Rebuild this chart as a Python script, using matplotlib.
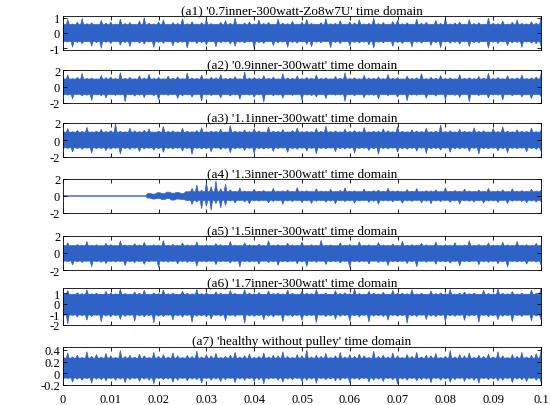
import numpy as np
import matplotlib.pyplot as plt

plt.rcParams['font.family'] = ['Liberation Serif', 'DejaVu Serif']

titles = ["(a1) '0.7inner-300watt-Zo8w7U' time domain",
          "(a2) '0.9inner-300watt' time domain",
          "(a3) '1.1inner-300watt' time domain",
          "(a4) '1.3inner-300watt' time domain",
          "(a5) '1.5inner-300watt' time domain",
          "(a6) '1.7inner-300watt' time domain",
          "(a7) 'healthy without pulley' time domain"]

# envolvente superior / inferior de cada senal (x100), muestreada de 0 a 0.1 s
a1_hi = [62, 88, 58, 70, 95, 60, 66, 55, 82, 64, 72, 58, 90, 61, 68, 57, 78, 99, 63, 59, 71, 85, 56, 67,
         62, 92, 60, 74, 58, 66, 87, 61, 57, 69, 80, 63, 96, 58, 65, 72, 59, 84, 62, 68, 57, 91, 64, 60,
         76, 58, 70, 88, 62, 56, 67, 94, 60, 63, 79, 58, 71, 65, 86, 59, 62, 97, 61, 68, 57, 74, 83, 60,
         66, 58, 90, 63, 69, 56, 81, 62, 93, 59, 65, 71, 58, 87, 61, 67, 57, 96, 63, 60, 78, 58, 69, 85,
         62, 59, 73, 64, 98]
a1_lo = [-65, -58, -92, -61, -70, -57, -85, -63, -99, -60, -68, -56, -79, -62, -88, -59, -66, -72, -58,
         -94, -61, -67, -57, -83, -64, -60, -97, -58, -69, -62, -76, -57, -90, -63, -59, -71, -86, -60,
         -65, -58, -100, -62, -68, -57, -81, -64, -59, -93, -61, -66, -58, -74, -89, -60, -63, -57, -96,
         -62, -69, -58, -84, -61, -65, -59, -77, -98, -60, -64, -57, -87, -62, -68, -58, -91, -60, -66,
         -57, -80, -63, -95, -59, -67, -61, -73, -58, -88, -62, -65, -57, -99, -60, -69, -58, -82, -64,
         -61, -94, -59, -66, -70, -86]
a2_hi = [105, 140, 95, 110, 160, 98, 102, 92, 135, 108, 115, 96, 170, 100, 112, 94, 130, 104, 150, 97,
         109, 93, 125, 101, 118, 95, 165, 103, 99, 138, 94, 111, 106, 145, 97, 100, 120, 93, 175, 102,
         108, 96, 132, 99, 114, 92, 155, 104, 98, 128, 95, 110, 101, 142, 97, 106, 94, 122, 100, 168,
         96, 107, 93, 136, 103, 99, 117, 95, 148, 101, 109, 92, 126, 98, 105, 158, 94, 112, 100, 133,
         96, 104, 93, 144, 99, 107, 95, 121, 102, 162, 97, 110, 94, 130, 100, 106, 139, 96, 103, 115, 150]
a2_lo = [-110, -104, -150, -98, -115, -106, -170, -101, -112, -140, -99, -108, -103, -185, -100, -118,
         -105, -135, -97, -111, -160, -102, -107, -99, -145, -113, -101, -128, -96, -175, -104, -109,
         -100, -138, -98, -116, -103, -155, -99, -106, -131, -101, -190, -97, -112, -104, -142, -100,
         -108, -98, -165, -103, -110, -126, -99, -147, -96, -105, -102, -180, -100, -114, -98, -137,
         -104, -107, -152, -97, -111, -101, -129, -99, -172, -103, -106, -98, -143, -100, -117, -96,
         -158, -102, -108, -133, -99, -186, -101, -110, -97, -140, -104, -105, -162, -98, -112, -100,
         -127, -103, -148, -99, -120]
a3_hi = [108, 135, 97, 112, 100, 150, 95, 104, 125, 99, 110, 190, 102, 96, 140, 107, 98, 115, 130, 94,
         105, 160, 100, 109, 96, 138, 103, 98, 112, 145, 97, 106, 101, 128, 95, 170, 104, 99, 118, 97,
         133, 108, 94, 152, 102, 100, 122, 96, 111, 142, 98, 105, 97, 136, 103, 165, 99, 107, 95, 127,
         101, 112, 98, 148, 96, 104, 100, 131, 109, 97, 158, 102, 95, 120, 106, 99, 139, 97, 103, 176,
         100, 110, 96, 126, 104, 98, 144, 101, 107, 95, 134, 99, 155, 103, 97, 119, 105, 100, 141, 98, 112]
a3_lo = [-105, -98, -140, -101, -110, -96, -155, -103, -99, -125, -107, -97, -165, -100, -112, -98,
         -135, -104, -96, -120, -102, -145, -99, -108, -97, -130, -101, -170, -98, -106, -103, -138,
         -96, -111, -100, -150, -104, -97, -122, -99, -160, -102, -107, -98, -133, -100, -95, -147,
         -103, -109, -97, -128, -101, -162, -99, -105, -96, -137, -102, -108, -98, -152, -100, -97,
         -124, -104, -168, -99, -106, -96, -142, -101, -110, -98, -131, -97, -157, -103, -100, -119,
         -96, -144, -102, -107, -99, -135, -98, -166, -101, -105, -97, -127, -103, -149, -99, -104,
         -96, -139, -100, -111, -130]
a4_hi = [0, 0, 0, 0, 0, 0, 0, 0, 0, 0, 0, 0, 0, 0, 0, 0, 0, 0,
         30, 22, 38, 28, 45, 33, 40, 30, 50,
         90, 130, 70, 160, 110, 180, 85, 140,
         75, 55, 95, 60, 52, 80, 58, 65, 50, 90, 57, 62, 72, 54, 100, 59, 63, 51, 85, 60,
         56, 78, 53, 66, 95, 58, 61, 52, 82, 57, 64, 70, 55, 92, 59, 62, 50, 76, 58, 88,
         54, 63, 60, 73, 52, 97, 57, 65, 56, 81, 60, 53, 69, 58, 90, 55, 62, 74, 51, 86,
         59, 64, 57, 79, 60, 66]
a4_lo = [0, 0, 0, 0, 0, 0, 0, 0, 0, 0, 0, 0, 0, 0, 0, 0, 0, 0,
         -25, -35, -28, -42, -30, -48, -36, -40, -55,
         -100, -70, -150, -120, -170, -90, -140, -110,
         -60, -85, -55, -70, -95, -58, -62, -52, -80, -64, -57, -100, -60, -66, -54, -78, -59,
         -88, -62, -55, -72, -61, -93, -56, -65, -58, -83, -60, -53, -75, -63, -97, -57, -61,
         -68, -55, -86, -59, -64, -52, -79, -62, -91, -58, -66, -54, -74, -60, -95, -57, -63,
         -70, -56, -84, -61, -59, -77, -53, -89, -62, -58, -65, -81, -60, -73, -66]
a5_hi = [95, 120, 88, 100, 92, 135, 90, 97, 86, 115, 99, 91, 142, 94, 89, 110, 96, 125, 87, 98, 93,
         148, 90, 101, 88, 118, 95, 92, 130, 89, 97, 86, 112, 100, 91, 138, 94, 88, 122, 96, 90, 104,
         87, 145, 93, 99, 89, 116, 95, 91, 128, 88, 98, 92, 150, 90, 96, 87, 119, 94, 100, 89, 133,
         92, 97, 86, 124, 95, 90, 108, 88, 140, 93, 99, 91, 114, 96, 87, 131, 90, 98, 93, 121, 89, 95,
         146, 92, 100, 88, 117, 94, 91, 127, 96, 89, 136, 93, 98, 90, 113, 95]
a5_lo = [-108, -100, -140, -104, -112, -98, -160, -103, -110, -125, -101, -106, -99, -150, -105, -113,
         -100, -135, -102, -97, -170, -104, -109, -101, -128, -99, -111, -103, -155, -100, -106, -98,
         -138, -105, -102, -120, -99, -165, -103, -108, -100, -132, -97, -112, -104, -145, -101, -107,
         -99, -126, -103, -158, -100, -110, -98, -136, -105, -101, -118, -99, -168, -102, -108, -100,
         -130, -97, -113, -104, -148, -101, -106, -99, -124, -103, -162, -100, -109, -98, -134, -102,
         -105, -120, -99, -153, -101, -107, -97, -139, -104, -111, -100, -127, -103, -166, -99, -106,
         -101, -131, -98, -108, -142]
a6_hi = [100, 125, 92, 105, 96, 135, 94, 101, 90, 118, 103, 95, 140, 98, 93, 112, 100, 128, 91, 104,
         97, 132, 95, 102, 90, 120, 99, 94, 138, 96, 103, 91, 115, 100, 93, 126, 98, 92, 134, 101, 95,
         108, 90, 122, 97, 104, 94, 130, 99, 92, 117, 102, 96, 136, 93, 100, 91, 124, 98, 105, 95, 140,
         97, 92, 119, 101, 94, 110, 90, 127, 99, 103, 96, 133, 93, 100, 91, 121, 97, 104, 95, 137, 92,
         99, 113, 96, 102, 90, 129, 98, 94, 142, 100, 95, 116, 93, 103, 91, 131, 99, 145]
a6_lo = [-118, -190, -110, -125, -114, -155, -120, -108, -170, -116, -122, -112, -148, -119, -109,
         -165, -115, -124, -111, -180, -117, -121, -108, -152, -113, -126, -110, -175, -118, -114,
         -123, -145, -109, -116, -160, -112, -120, -107, -185, -115, -119, -111, -150, -117, -124,
         -109, -168, -113, -121, -110, -158, -116, -112, -178, -108, -122, -115, -147, -119, -111,
         -163, -114, -125, -109, -172, -117, -113, -120, -155, -110, -118, -112, -183, -115, -121,
         -108, -149, -116, -123, -111, -166, -114, -119, -110, -157, -117, -112, -176, -109, -122,
         -115, -151, -118, -113, -169, -111, -120, -108, -160, -116, -150]
a7_hi = [30, 35, 28, 31, 27, 37, 29, 32, 28, 34, 30, 27, 39, 29, 31, 28, 33, 30, 27, 36, 29, 32, 28,
         35, 30, 27, 31, 29, 38, 28, 32, 30, 34, 27, 29, 31, 36, 28, 30, 33, 27, 29, 35, 28, 31, 30,
         37, 29, 27, 32, 30, 40, 28, 31, 29, 34, 27, 30, 36, 28, 32, 29, 33, 30, 27, 38, 29, 31, 28,
         35, 30, 27, 32, 29, 36, 28, 31, 30, 34, 27, 29, 39, 28, 32, 30, 35, 27, 31, 29, 33, 28, 37,
         30, 27, 32, 29, 36, 28, 31, 34, 38]
a7_lo = [-11, -9, -15, -10, -12, -9, -17, -10, -11, -13, -9, -12, -10, -16, -11, -9, -14, -10, -12,
         -18, -9, -11, -10, -15, -12, -9, -13, -10, -11, -17, -9, -12, -10, -14, -11, -9, -16, -10,
         -12, -9, -13, -11, -18, -10, -9, -12, -15, -10, -11, -9, -14, -12, -10, -17, -9, -11, -10,
         -13, -12, -9, -16, -10, -11, -9, -15, -12, -10, -14, -9, -11, -18, -10, -12, -9, -13, -11,
         -10, -16, -9, -12, -10, -15, -11, -9, -14, -10, -12, -17, -9, -11, -10, -13, -12, -9, -16,
         -10, -11, -14, -9, -12, -15]

# nivel del nucleo denso de cada senal (donde empiezan los picos)
core_hi = [0.55, 0.9, 0.92, 0.5, 0.85, 0.9, 0.26]
core_lo = [-0.55, -0.95, -0.92, -0.5, -0.95, -1.05, -0.08]

highs = [a1_hi, a2_hi, a3_hi, a4_hi, a5_hi, a6_hi, a7_hi]
lows = [a1_lo, a2_lo, a3_lo, a4_lo, a5_lo, a6_lo, a7_lo]

ylims = [(-1.1, 1.1), (-2, 2), (-2, 2), (-2, 2), (-2, 2), (-2, 1.5), (-0.2, 0.45)]
yticks = [[-1, 0, 1], [-2, 0, 2], [-2, 0, 2], [-2, 0, 2], [-2, 0, 2],
          [-2, -1, 0, 1], [-0.2, 0, 0.2, 0.4]]
ytlabels = [['-1', '0', '1'], ['-2', '0', '2'], ['-2', '0', '2'], ['-2', '0', '2'],
            ['-2', '0', '2'], ['-2', '-1', '0', '1'], ['-0.2', '0', '0.2', '0.4']]
xtlabels = ['0', '0.01', '0.02', '0.03', '0.04', '0.05', '0.06', '0.07', '0.08', '0.09', '0.1']

# posicion de cada eje en pixeles (arriba, abajo)
tops = [17, 71, 124, 180, 237, 289, 348]
bots = [51, 104, 158, 214, 271, 326, 386]


def spikes(v, base, upper):
    # borde con picos finos: base - pico - base en cada muestra
    t = np.linspace(0.0, 0.1, len(v))
    d = (t[1] - t[0]) * 0.3
    b = np.minimum(v, base) if upper else np.maximum(v, base)
    x = np.ravel(np.column_stack([t - d, t, t + d]))
    y = np.ravel(np.column_stack([b, v, b]))
    return x, y


W, H = 550, 406
fig = plt.figure(figsize=(W / 100, H / 100), dpi=100)
col = '#2f62c6'

for i in range(7):
    ax = fig.add_axes([63 / W, 1 - bots[i] / H, (541 - 63) / W, (bots[i] - tops[i]) / H])
    hi = np.array(highs[i]) / 100.0
    lo = np.array(lows[i]) / 100.0
    xh, yh = spikes(hi, core_hi[i], True)
    xl, yl = spikes(lo, core_lo[i], False)
    ax.fill(np.concatenate([xh, xl[::-1]]), np.concatenate([yh, yl[::-1]]),
            color=col, lw=0.5)
    ax.set_xlim(0, 0.1)
    ax.set_ylim(*ylims[i])
    ax.set_yticks(yticks[i])
    ax.set_yticklabels(ytlabels[i])
    ax.set_xticks(np.arange(0, 0.1001, 0.01))
    ax.tick_params(direction='in', top=True, right=True, length=3, width=0.6,
                   labelsize=9, pad=2)
    ax.tick_params(axis='x', pad=6)
    for s in ax.spines.values():
        s.set_linewidth(0.6)
    if i < 6:
        ax.set_xticklabels([])
    else:
        ax.set_xticklabels(xtlabels)
    ax.set_title(titles[i], fontsize=9.5, pad=2)

fig.savefig('out.png', dpi=100)
